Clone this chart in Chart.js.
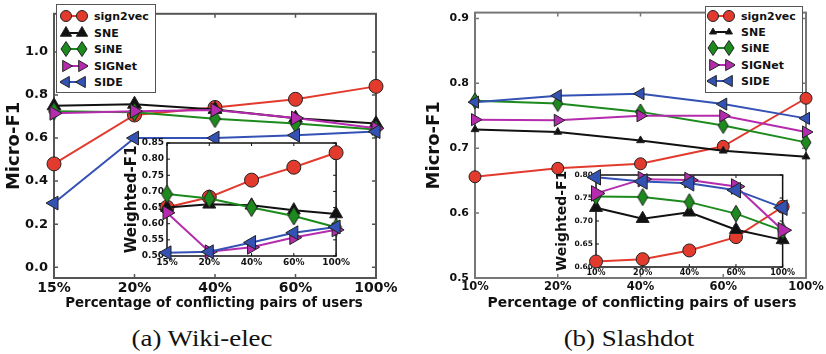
<!DOCTYPE html>
<html><head><meta charset="utf-8">
<script src="https://cdn.jsdelivr.net/npm/chart.js@4.4.0/dist/chart.umd.min.js"></script>
<style>
body{margin:0;background:#fff;width:826px;height:354px;overflow:hidden;position:relative;font-family:"DejaVu Sans",sans-serif;}
canvas{position:absolute;}
.xt{position:absolute;font-weight:bold;white-space:nowrap;transform:translate(-50%,-50%);color:#111;}
.cap{position:absolute;font-family:"Liberation Serif",serif;white-space:nowrap;transform:translate(-50%,-50%) scaleX(1.12);color:#111;}
.legend{position:absolute;background:#fff;border:1.5px solid #555;box-sizing:border-box;}
.row{position:absolute;left:0;height:16px;display:flex;align-items:center;font-weight:bold;font-size:11px;color:#111;white-space:nowrap;}
.row svg{margin-right:6px;}
</style></head><body>
<canvas id="mainA" width="400" height="300" style="left:0;top:0"></canvas>
<canvas id="mainB" width="406" height="300" style="left:420px;top:0"></canvas>
<canvas id="insetA" width="229" height="134" style="left:122px;top:134px"></canvas>
<canvas id="insetB" width="243" height="113" style="left:553px;top:165px"></canvas>
<div class="xt" style="left:214px;top:302px;font-size:13.4px">Percentage of conflicting pairs of users</div>
<div class="xt" style="left:642px;top:302px;font-size:13.9px">Percentage of conflicting pairs of users</div>
<div class="cap" style="left:202px;top:338px;font-size:24px">(a) Wiki-elec</div>
<div class="cap" style="left:629px;top:338px;font-size:24px">(b) Slashdot</div>
<div class="legend" id="legA" style="left:56px;top:4px;width:100px;height:89px"></div>
<div class="legend" id="legB" style="left:705px;top:6px;width:98px;height:87px"></div>
<script>
// ---------- data ----------
const methods = ['sign2vec', 'SNE', 'SiNE', 'SIGNet', 'SIDE'];
const wikiCats = ['15%', '20%', '40%', '60%', '100%'];
const slashCats = ['10%', '20%', '40%', '60%', '100%'];

// Wiki-elec, Micro-F1 (main panel a)
const wikiMicroSign2vec = [0.48, 0.707, 0.742, 0.78, 0.84];
const wikiMicroSNE      = [0.75, 0.757, 0.733, 0.692, 0.667];
const wikiMicroSiNE     = [0.725, 0.72, 0.69, 0.667, 0.64];
const wikiMicroSIGNet   = [0.715, 0.725, 0.73, 0.693, 0.645];
const wikiMicroSIDE     = [0.298, 0.60, 0.60, 0.613, 0.63];

// Wiki-elec, Weighted-F1 (inset a)
const wikiWeightedSign2vec = [0.651, 0.682, 0.735, 0.775, 0.82];
const wikiWeightedSNE      = [0.65, 0.66, 0.657, 0.642, 0.63];
const wikiWeightedSiNE     = [0.692, 0.678, 0.65, 0.624, 0.589];
const wikiWeightedSIGNet   = [0.634, 0.513, 0.527, 0.557, 0.581];
const wikiWeightedSIDE     = [0.51, 0.513, 0.542, 0.572, 0.59];

// Slashdot, Micro-F1 (main panel b)
const slashMicroSign2vec = [0.656, 0.669, 0.676, 0.703, 0.777];
const slashMicroSNE      = [0.729, 0.725, 0.712, 0.696, 0.687];
const slashMicroSiNE     = [0.773, 0.769, 0.756, 0.735, 0.709];
const slashMicroSIGNet   = [0.744, 0.743, 0.75, 0.75, 0.725];
const slashMicroSIDE     = [0.771, 0.781, 0.784, 0.768, 0.746];

// Slashdot, Weighted-F1 (inset b)
const slashWeightedSign2vec = [0.612, 0.617, 0.636, 0.665, 0.731];
const slashWeightedSNE      = [0.729, 0.705, 0.719, 0.681, 0.659];
const slashWeightedSiNE     = [0.753, 0.752, 0.741, 0.716, 0.679];
const slashWeightedSIGNet   = [0.76, 0.791, 0.789, 0.775, 0.68];
const slashWeightedSIDE     = [0.795, 0.786, 0.782, 0.767, 0.729];

const mainATicks = [0.0, 0.2, 0.4, 0.6, 0.8, 1.0];
const mainBTicks = [0.5, 0.6, 0.7, 0.8, 0.9];
const insetATicks = [0.50, 0.55, 0.60, 0.65, 0.70, 0.75, 0.80, 0.85];
const insetBTicks = [0.60, 0.65, 0.70, 0.75, 0.80];

// ---------- styles ----------
const COLORS = {sign2vec:'#e23b2e', SNE:'#111111', SiNE:'#1c8a1c', SIGNet:'#b52bae', SIDE:'#3452b4'};
const EDGE = '#222';

function diamondCanvas(w, h, fill) {
  const c = document.createElement('canvas');
  c.width = w + 2; c.height = h + 2;
  const g = c.getContext('2d');
  g.beginPath();
  g.moveTo((w + 2) / 2, 1); g.lineTo(w + 1, (h + 2) / 2);
  g.lineTo((w + 2) / 2, h + 1); g.lineTo(1, (h + 2) / 2); g.closePath();
  g.fillStyle = fill; g.fill(); g.strokeStyle = EDGE; g.lineWidth = 1; g.stroke();
  return c;
}

function makeDatasets(series, sz) {
  return methods.map((m, i) => {
    const d = {
      label: m, data: series[i], borderColor: COLORS[m], backgroundColor: COLORS[m],
      pointBackgroundColor: COLORS[m], pointBorderColor: EDGE, pointBorderWidth: 1,
      borderWidth: 2, tension: 0, clip: false, order: methods.length - i
    };
    if (m === 'sign2vec') { d.pointStyle = 'circle'; d.pointRadius = sz.circle; }
    if (m === 'SNE') { d.pointStyle = 'triangle'; d.pointRadius = sz.sne; }
    if (m === 'SiNE') { d.pointStyle = diamondCanvas(sz.dw, sz.dh, COLORS[m]); d.pointRadius = sz.circle; }
    if (m === 'SIGNet') { d.pointStyle = 'triangle'; d.pointRotation = 90; d.pointRadius = sz.tri; }
    if (m === 'SIDE') { d.pointStyle = 'triangle'; d.pointRotation = -90; d.pointRadius = sz.tri; }
    d.pointHoverRadius = d.pointRadius;
    return d;
  });
}

const framePlugin = {
  id: 'frame',
  beforeDraw(chart) {
    const o = chart.options.plugins.frame;
    const a = chart.chartArea, ctx = chart.ctx;
    if (o.fill) { ctx.save(); ctx.fillStyle = '#fff'; ctx.fillRect(a.left, a.top, a.right - a.left, a.bottom - a.top); ctx.restore(); }
  },
  beforeDatasetsDraw(chart) {
    const o = chart.options.plugins.frame;
    const a = chart.chartArea, ctx = chart.ctx;
    ctx.save();
    ctx.strokeStyle = o.color; ctx.lineWidth = o.width;
    ctx.beginPath();
    const L = o.tick;
    const xs = chart.scales.x, ys = chart.scales.y;
    xs.ticks.forEach((t, i) => {
      const x = xs.getPixelForTick(i);
      ctx.moveTo(x, a.bottom); ctx.lineTo(x, a.bottom - L);
      ctx.moveTo(x, a.top); ctx.lineTo(x, a.top + L);
    });
    ys.ticks.forEach((t) => {
      const y = ys.getPixelForValue(t.value);
      ctx.moveTo(a.left, y); ctx.lineTo(a.left + L, y);
      ctx.moveTo(a.right, y); ctx.lineTo(a.right - L, y);
    });
    ctx.lineWidth = Math.max(1, o.width - 0.5);
    ctx.stroke();
    ctx.lineWidth = o.width;
    ctx.strokeRect(a.left, a.top, a.right - a.left, a.bottom - a.top);
    ctx.restore();
  }
};

function makeChart(id, cats, series, cfg) {
  return new Chart(document.getElementById(id), {
    type: 'line',
    data: { labels: cats, datasets: makeDatasets(series, cfg.sz) },
    options: {
      responsive: false, animation: false, devicePixelRatio: 1,
      layout: { padding: cfg.pad },
      events: [],
      plugins: { legend: { display: false }, tooltip: { enabled: false },
        frame: { color: cfg.frameColor, width: cfg.frameWidth, tick: cfg.tickLen, fill: cfg.fill } },
      scales: {
        x: {
          type: 'category', offset: false,
          grid: { display: false, drawTicks: false }, border: { display: false },
          ticks: { font: { family: 'DejaVu Sans', weight: 'bold', size: cfg.xFont }, color: '#111',
                   padding: cfg.xPad, maxRotation: 0, autoSkip: false },
          afterFit(s) { s.height = cfg.xh; }
        },
        y: {
          min: cfg.min, max: cfg.max,
          grid: { display: false, drawTicks: false }, border: { display: false },
          afterBuildTicks(s) { s.ticks = cfg.yTicks.map(v => ({ value: v })); },
          ticks: { font: { family: 'DejaVu Sans', weight: 'bold', size: cfg.yFont }, color: '#111',
                   padding: cfg.yPad, callback: v => Number(v).toFixed(cfg.dec) },
          title: { display: true, text: cfg.yTitle, color: '#111',
                   font: { family: 'DejaVu Sans', weight: 'bold', size: cfg.titleFont },
                   padding: cfg.titlePad },
          afterFit(s) { s.width = cfg.yw; }
        }
      }
    },
    plugins: [framePlugin]
  });
}

makeChart('mainA', wikiCats,
  [wikiMicroSign2vec, wikiMicroSNE, wikiMicroSiNE, wikiMicroSIGNet, wikiMicroSIDE],
  { sz: { circle: 7, sne: 8, tri: 8, dw: 11, dh: 18 }, pad: { top: 2, right: 24, left: 0, bottom: 0 },
    xh: 22, yw: 54, xFont: 14, yFont: 13, xPad: 2, yPad: 6, min: -0.05, max: 1.177, yTicks: mainATicks,
    dec: 1, yTitle: 'Micro-F1', titleFont: 18, titlePad: { top: 4, bottom: 0 },
    frameColor: '#555', frameWidth: 2, tickLen: 4, fill: false });

makeChart('mainB', slashCats,
  [slashMicroSign2vec, slashMicroSNE, slashMicroSiNE, slashMicroSIGNet, slashMicroSIDE],
  { sz: { circle: 6, sne: 4.5, tri: 7, dw: 10, dh: 16 }, pad: { top: 2, right: 20, left: 0, bottom: 0 },
    xh: 22, yw: 55, xFont: 11.5, yFont: 11, xPad: 2, yPad: 6, min: 0.5, max: 0.909, yTicks: mainBTicks,
    dec: 1, yTitle: 'Micro-F1', titleFont: 18, titlePad: { top: 4, bottom: 0 },
    frameColor: '#777', frameWidth: 2, tickLen: 4, fill: false });

makeChart('insetA', wikiCats,
  [wikiWeightedSign2vec, wikiWeightedSNE, wikiWeightedSiNE, wikiWeightedSIGNet, wikiWeightedSIDE],
  { sz: { circle: 7, sne: 7.5, tri: 8, dw: 11, dh: 18 }, pad: { top: 6, right: 4, left: 0, bottom: 0 },
    xh: 12, yw: 45, xFont: 9, yFont: 9, xPad: 1, yPad: 3, min: 0.5, max: 0.85, yTicks: insetATicks,
    dec: 2, yTitle: 'Weighted-F1', titleFont: 15, titlePad: { top: 1, bottom: 0 },
    frameColor: '#111', frameWidth: 1.5, tickLen: 3, fill: true });

makeChart('insetB', slashCats,
  [slashWeightedSign2vec, slashWeightedSNE, slashWeightedSiNE, slashWeightedSIGNet, slashWeightedSIDE],
  { sz: { circle: 6.5, sne: 7.5, tri: 9, dw: 10, dh: 17 }, pad: { top: 6, right: 5, left: 0, bottom: 0 },
    xh: 11, yw: 43, xFont: 8, yFont: 7.5, xPad: 1, yPad: 3, min: 0.6, max: 0.8, yTicks: insetBTicks,
    dec: 2, yTitle: 'Weighted-F1', titleFont: 14, titlePad: { top: 1, bottom: 0 },
    frameColor: '#111', frameWidth: 1.5, tickLen: 3, fill: true });

// ---------- legends ----------
function markerSvg(m, cx, cy, small) {
  const c = COLORS[m];
  const s = `fill="${c}" stroke="${EDGE}" stroke-width="1"`;
  if (m === 'sign2vec') return `<circle cx="${cx}" cy="${cy}" r="5.5" ${s}/>`;
  if (m === 'SNE') {
    const r = small ? 4 : 6.5;
    return `<polygon points="${cx},${cy - r} ${cx - r * 0.87},${cy + r / 2} ${cx + r * 0.87},${cy + r / 2}" ${s}/>`;
  }
  if (m === 'SiNE') return `<polygon points="${cx},${cy - 7.5} ${cx + 5},${cy} ${cx},${cy + 7.5} ${cx - 5},${cy}" ${s}/>`;
  if (m === 'SIGNet') return `<polygon points="${cx + 6.5},${cy} ${cx - 3.3},${cy - 5.6} ${cx - 3.3},${cy + 5.6}" ${s}/>`;
  return `<polygon points="${cx - 6.5},${cy} ${cx + 3.3},${cy - 5.6} ${cx + 3.3},${cy + 5.6}" ${s}/>`;
}
function buildLegend(id, rowTops, padLeft, smallSNE) {
  const el = document.getElementById(id);
  methods.forEach((m, i) => {
    const row = document.createElement('div');
    row.className = 'row';
    row.style.top = (rowTops[i] - 8) + 'px';
    row.style.left = padLeft + 'px';
    const svg = `<svg width="28" height="16" viewBox="0 0 28 16"><line x1="6" y1="8" x2="22" y2="8" stroke="${COLORS[m]}" stroke-width="2"/>` +
      markerSvg(m, 6, 8, smallSNE) + markerSvg(m, 22, 8, smallSNE) + `</svg>`;
    row.innerHTML = svg + `<span>${m}</span>`;
    el.appendChild(row);
  });
}
buildLegend('legA', [11, 28, 44, 61, 77], 3, false);
buildLegend('legB', [9, 25, 41, 58, 74], 1, true);
</script>
</body></html>
